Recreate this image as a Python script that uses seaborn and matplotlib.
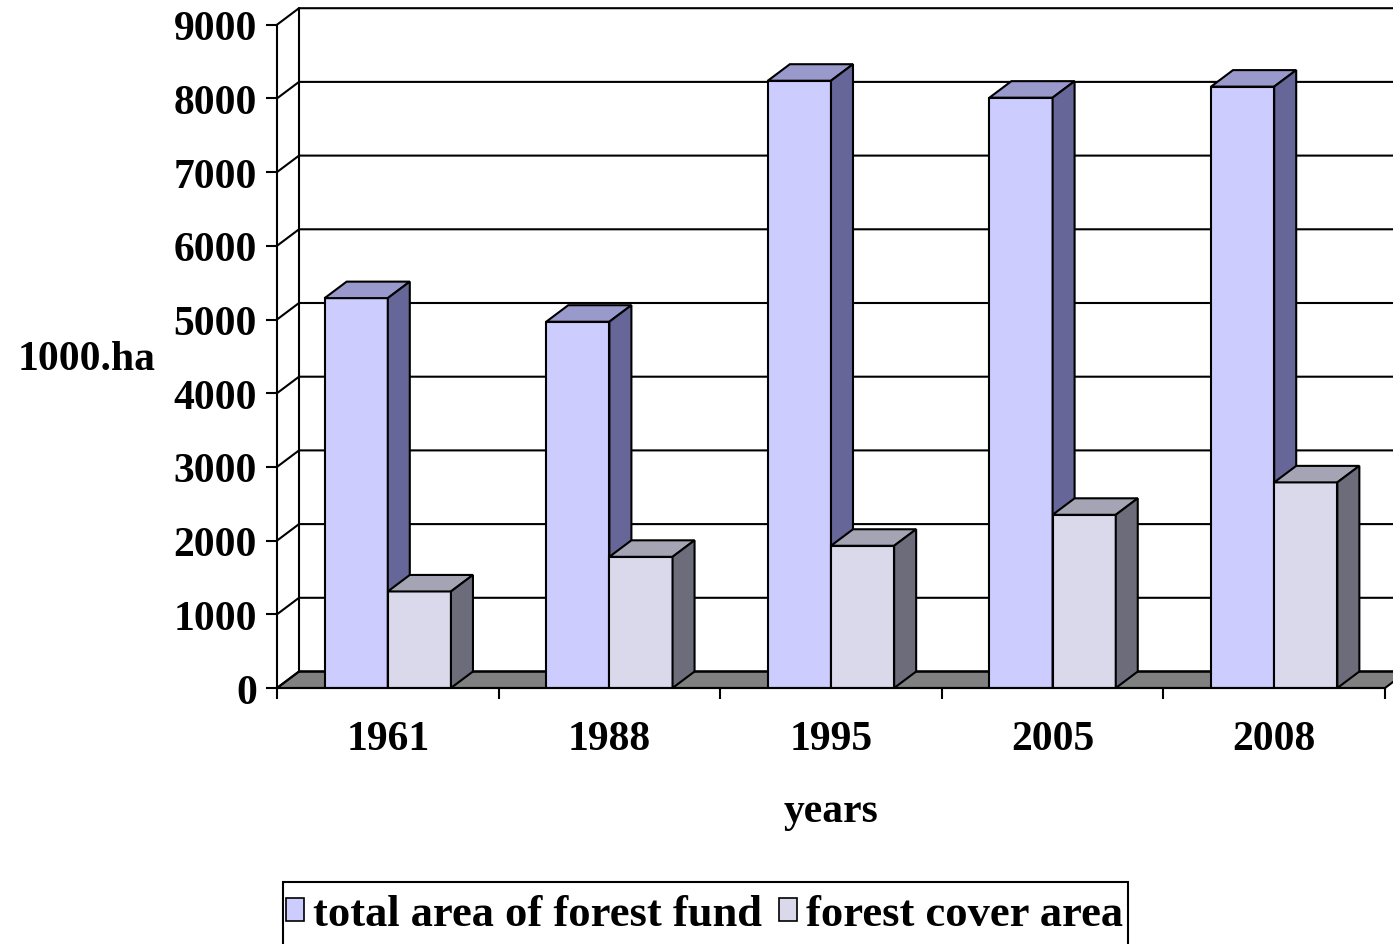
import matplotlib
matplotlib.use("Agg")
import matplotlib.pyplot as plt
import seaborn as sns
import pandas as pd
import numpy as np
from matplotlib.patches import Polygon, Patch, Rectangle

# ---- data ----
years = ["1961", "1988", "1995", "2005", "2008"]
total_area = [5290, 4970, 8240, 8010, 8160]
cover_area = [1310, 1780, 1930, 2350, 2790]
series_names = ["total area of forest fund", "forest cover area"]
y_ticks = list(range(0, 9001, 1000))

df = pd.DataFrame({
    "year": years * 2,
    "series": [series_names[0]] * len(years) + [series_names[1]] * len(years),
    "value": total_area + cover_area,
})

sns.set_style("white")
plt.rcParams["font.family"] = ["Liberation Serif", "DejaVu Serif"]
plt.rcParams["font.weight"] = "bold"
plt.rcParams["text.color"] = "black"
plt.rcParams["xtick.color"] = "black"
plt.rcParams["ytick.color"] = "black"
plt.rcParams["xtick.labelcolor"] = "black"
plt.rcParams["ytick.labelcolor"] = "black"

W, H = 1393, 945
fig = plt.figure(figsize=(W / 100, H / 100), dpi=100)
ax = fig.add_axes([277 / W, 1 - 689 / H, (1385 - 277) / W, (689 - 25.7) / H])

front_cols = {series_names[0]: "#CCCCFF", series_names[1]: "#DAD9EC"}
top_cols = ["#9999CC", "#A5A4B4"]
side_cols = ["#666699", "#6D6C7B"]
EW = 1.5

sns.barplot(data=df, x="year", y="value", hue="series", order=years,
            hue_order=series_names, palette=front_cols, width=0.57,
            edgecolor="black", linewidth=EW, ax=ax, legend=False,
            saturation=1)

ax.set_xlim(-0.5, len(years) - 0.5)
ax.set_ylim(0, 9000)

# depth offset (pixels -> data)
dx = 22 / (ax.bbox.width / len(years))
dy = 16.5 / (ax.bbox.height / 9000)

x_lo, x_hi = -0.5, len(years) - 0.5

# floor
floor = Polygon([(x_lo, 0), (x_hi, 0), (x_hi + dx, dy), (x_lo + dx, dy)],
                closed=True, facecolor="#808080", edgecolor="black",
                linewidth=EW, zorder=1.5, clip_on=False)
ax.add_patch(floor)

# back wall gridlines
for v in y_ticks:
    ax.plot([x_lo, x_lo + dx, x_hi + 2 * dx], [v, v + dy, v + dy],
            color="black", lw=1.5, clip_on=False, zorder=2,
            solid_capstyle="butt")
ax.plot([x_lo + dx, x_lo + dx], [dy, 9000 + dy], color="black", lw=1.5,
        clip_on=False, zorder=2)

# 3D faces for bars
for i, cont in enumerate(ax.containers):
    for bar in cont:
        x0 = bar.get_x()
        w = bar.get_width()
        h = bar.get_height()
        z = 3 + i
        bar.set_zorder(z)
        topf = Polygon([(x0, h), (x0 + w, h), (x0 + w + dx, h + dy), (x0 + dx, h + dy)],
                       closed=True, facecolor=top_cols[i], edgecolor="black",
                       linewidth=EW, zorder=z, clip_on=False)
        sidef = Polygon([(x0 + w, 0), (x0 + w + dx, dy), (x0 + w + dx, h + dy), (x0 + w, h)],
                        closed=True, facecolor=side_cols[i], edgecolor="black",
                        linewidth=EW, zorder=z, clip_on=False)
        ax.add_patch(topf)
        ax.add_patch(sidef)

# spines & ticks
for s in ["top", "right"]:
    ax.spines[s].set_visible(False)
for s in ["left", "bottom"]:
    ax.spines[s].set_linewidth(1.5)
    ax.spines[s].set_color("black")
    ax.spines[s].set_zorder(6)

ax.set_yticks(y_ticks)
ax.set_yticklabels([str(v) for v in y_ticks])
ax.tick_params(axis="y", which="major", direction="out", length=8, width=1.5,
               pad=6.5, labelsize=30, left=True, color="black", labelcolor="black")
ax.set_xticks(np.arange(x_lo, x_hi + 0.01, 1.0), minor=True)
ax.tick_params(axis="x", which="minor", direction="out", length=8, width=1.5,
               bottom=True, color="black")
ax.tick_params(axis="x", which="major", length=0, pad=23, labelsize=30,
               labelcolor="black")
for lbl in ax.get_xticklabels() + ax.get_yticklabels():
    lbl.set_fontweight("bold")
ax.set_xlabel("")
ax.set_ylabel("")
ax.grid(False)

fig.text(831 / W, 1 - 812 / H, "years", ha="center", va="center",
         fontsize=30, fontweight="bold", color="black")
fig.text(18 / W, 1 - 360 / H, "1000.ha", ha="left", va="center",
         fontsize=30, fontweight="bold", color="black")

# legend box (runs off the bottom edge as in the reference)
fig.patches.append(Rectangle((283 / W, -0.02), (1128 - 283) / W, 0.02 + (945 - 883) / H,
                             transform=fig.transFigure, facecolor="white",
                             edgecolor="black", linewidth=1.5, zorder=0))

handles = [Patch(facecolor=front_cols[n], edgecolor="black", linewidth=1.2, label=n)
           for n in series_names]
leg = fig.legend(handles=handles, loc="center left",
                 bbox_to_anchor=(286 / W, 1 - 915 / H), ncol=2,
                 frameon=False, borderaxespad=0, borderpad=0.0,
                 handlelength=0.4, handleheight=0.42, handletextpad=0.2,
                 columnspacing=0.4, prop={"size": 32, "weight": "bold"})
leg.set_zorder(5)
for t in leg.get_texts():
    t.set_color("black")

fig.savefig("out.png", dpi=100)
